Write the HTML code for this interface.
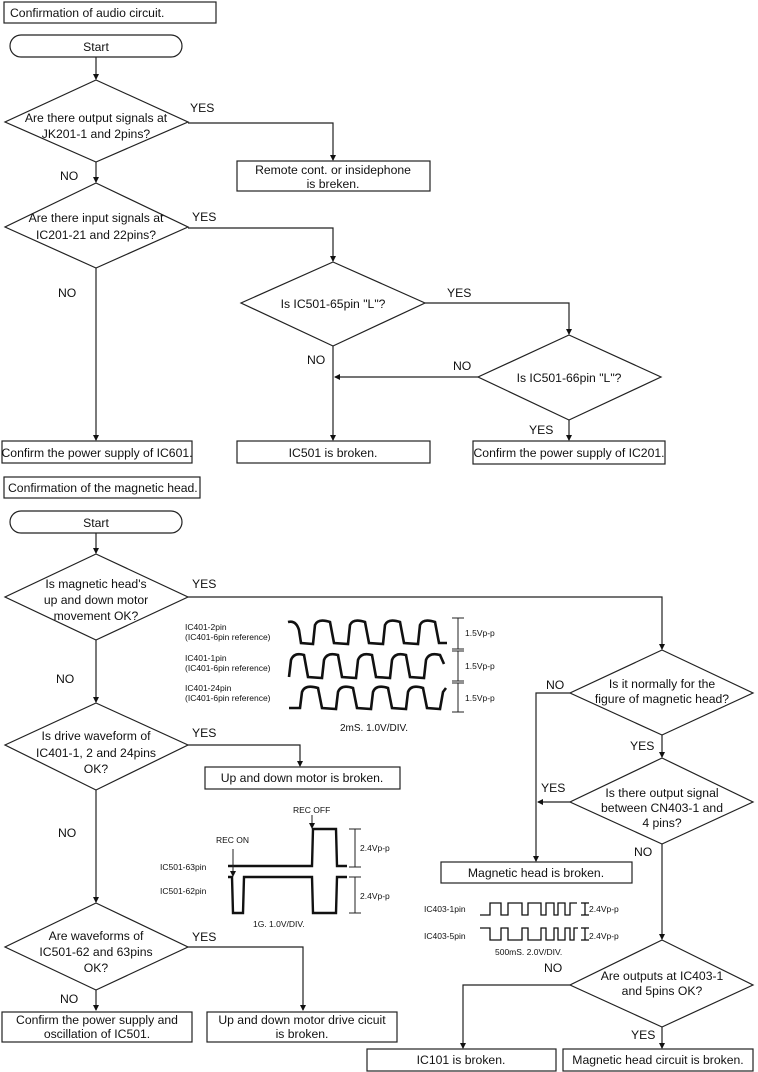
<!DOCTYPE html>
<html><head><meta charset="utf-8"><style>
body{margin:0;background:#fff}
svg{display:block}
text{font-family:"Liberation Sans",sans-serif;fill:#111}
.t{font-size:12.2px}
.s{font-size:8.5px}
.m{font-size:10px}
</style></head><body>
<svg width="758" height="1072" viewBox="0 0 758 1072" xmlns="http://www.w3.org/2000/svg">
<defs><marker id="a" markerWidth="6" markerHeight="8" refX="5" refY="4" orient="auto" markerUnits="userSpaceOnUse"><path d="M0,1 L6,4 L0,7 z" fill="#111"/></marker></defs>
<g fill="none" stroke="#222" stroke-width="1.2">
<rect x="4" y="2" width="212" height="21"/>
<rect x="10" y="35" width="172" height="22" rx="11"/>
<line x1="96" y1="57" x2="96" y2="79" marker-end="url(#a)"/>
<polygon points="96,80 188,122 96,162 5,122"/>
<polyline points="188,123 333,123 333,160" marker-end="url(#a)"/>
<rect x="237" y="161" width="193" height="30"/>
<line x1="96" y1="162" x2="96" y2="182" marker-end="url(#a)"/>
<polygon points="96,183 188,227 96,268 5,227"/>
<polyline points="188,228 333,228 333,261" marker-end="url(#a)"/>
<polygon points="333,262 425,303 333,346 241,303"/>
<polyline points="425,303 569,303 569,334" marker-end="url(#a)"/>
<polygon points="569,335 661,377 569,420 478,377"/>
<line x1="478" y1="377" x2="335" y2="377" marker-end="url(#a)"/>
<line x1="333" y1="346" x2="333" y2="440" marker-end="url(#a)"/>
<line x1="569" y1="420" x2="569" y2="440" marker-end="url(#a)"/>
<line x1="96" y1="268" x2="96" y2="440" marker-end="url(#a)"/>
<rect x="2" y="441" width="190" height="22"/>
<rect x="237" y="441" width="193" height="22"/>
<rect x="473" y="441" width="192" height="23"/>
<rect x="4" y="477" width="196" height="21"/>
<rect x="10" y="511" width="172" height="22" rx="11"/>
<line x1="96" y1="533" x2="96" y2="553" marker-end="url(#a)"/>
<polygon points="96,554 188,597 96,640 5,597"/>
<polyline points="188,597 662,597 662,649" marker-end="url(#a)"/>
<polygon points="662,650 753,693 662,735 570,693"/>
<polyline points="570,693 536,693 536,861" marker-end="url(#a)"/>
<line x1="662" y1="735" x2="662" y2="757" marker-end="url(#a)"/>
<polygon points="662,758 753,802 662,844 570,802"/>
<line x1="570" y1="802" x2="538" y2="802" marker-end="url(#a)"/>
<rect x="441" y="862" width="191" height="21"/>
<line x1="662" y1="844" x2="662" y2="939" marker-end="url(#a)"/>
<polygon points="662,940 753,985 662,1027 570,985"/>
<polyline points="570,985 463,985 463,1048" marker-end="url(#a)"/>
<line x1="662" y1="1027" x2="662" y2="1048" marker-end="url(#a)"/>
<rect x="367" y="1049" width="189" height="22"/>
<rect x="563" y="1049" width="190" height="22"/>
<line x1="96" y1="640" x2="96" y2="702" marker-end="url(#a)"/>
<polygon points="96,703 188,745 96,790 5,745"/>
<polyline points="188,745 300,745 300,766" marker-end="url(#a)"/>
<rect x="205" y="767" width="195" height="22"/>
<line x1="96" y1="790" x2="96" y2="902" marker-end="url(#a)"/>
<polygon points="96,903 188,947 96,990 5,947"/>
<polyline points="188,947 303,947 303,1010" marker-end="url(#a)"/>
<line x1="96" y1="990" x2="96" y2="1010" marker-end="url(#a)"/>
<rect x="2" y="1012" width="190" height="30"/>
<rect x="207" y="1012" width="190" height="30"/>
</g>
<g fill="none" stroke="#111" stroke-width="2.6">
<path d="M288,622 Q296,620 299,630 L301,643 L313,644 L315,625 Q318,618 330,622 L334,643 L348,644 L350,625 Q353,618 365,622 L369,643 L383,644 L385,625 Q388,618 400,622 L404,643 L418,644 L420,625 Q423,618 435,622 L439,643 L447,643"/>
<path d="M289,677 L291,660 Q294,652 304,655 L308,677 L322,678 L324,660 Q327,652 338,655 L342,677 L356,678 L358,660 Q361,652 372,655 L376,677 L390,678 L392,660 Q395,652 406,655 L410,677 L424,678 L426,660 Q429,652 440,655 L444,664"/>
<path d="M289,708 L300,708 L302,692 Q305,684 318,688 L322,708 L336,709 L338,692 Q341,684 353,688 L357,708 L371,709 L373,692 Q376,684 388,688 L392,708 L406,709 L408,692 Q411,684 423,688 L427,708 L440,709 L443,692 L446,688"/>
</g>
<g fill="none" stroke="#222" stroke-width="1">
<line x1="458" y1="618" x2="458" y2="649"/><line x1="452" y1="618" x2="464" y2="618"/><line x1="452" y1="649" x2="464" y2="649"/>
<line x1="458" y1="651" x2="458" y2="681"/><line x1="452" y1="651" x2="464" y2="651"/><line x1="452" y1="681" x2="464" y2="681"/>
<line x1="458" y1="683" x2="458" y2="712"/><line x1="452" y1="683" x2="464" y2="683"/><line x1="452" y1="712" x2="464" y2="712"/>
</g>
<g fill="none" stroke="#111" stroke-width="2.4">
<path d="M228,866 L312,866 L313,829 L336,829 L337,866 L347,866"/>
<path d="M228,877 L232,877 L233,913 L243,913 L244,877 L312,877 L313,913 L336,913 L337,877 L347,877"/>
</g>
<g fill="none" stroke="#222" stroke-width="1">
<line x1="355" y1="829" x2="355" y2="867"/><line x1="349" y1="829" x2="361" y2="829"/><line x1="349" y1="867" x2="361" y2="867"/>
<line x1="355" y1="877" x2="355" y2="913"/><line x1="349" y1="877" x2="361" y2="877"/><line x1="349" y1="913" x2="361" y2="913"/>
<line x1="233" y1="849" x2="233" y2="876" marker-end="url(#a)"/>
<line x1="312" y1="815" x2="312" y2="828" marker-end="url(#a)"/>
</g>
<g fill="none" stroke="#111" stroke-width="1.3">
<path d="M480,915 L490,915 L490,903 L501,903 L501,915 L508,915 L508,903 L522,903 L522,915 L528,915 L528,903 L541,903 L541,915 L546,915 L546,903 L554,903 L554,915 L558,915 L558,903 L565,903 L565,915 L570,915 L570,903 L577,903"/>
<path d="M480,928 L490,928 L490,940 L501,940 L501,928 L508,928 L508,940 L522,940 L522,928 L528,928 L528,940 L541,940 L541,928 L546,928 L546,940 L554,940 L554,928 L558,928 L558,940 L565,940 L565,928 L570,928 L570,940 L574,940 L574,928 L578,928"/>
<line x1="585" y1="903" x2="585" y2="915"/><line x1="581" y1="903" x2="589" y2="903"/><line x1="581" y1="915" x2="589" y2="915"/>
<line x1="585" y1="928" x2="585" y2="940"/><line x1="581" y1="928" x2="589" y2="928"/><line x1="581" y1="940" x2="589" y2="940"/>
</g>
<g class="t">
<text x="10" y="17">Confirmation  of audio circuit.</text>
<text x="96" y="51" text-anchor="middle">Start</text>
<text x="96" y="122" text-anchor="middle">Are there output signals at</text>
<text x="96" y="138" text-anchor="middle">JK201-1 and 2pins?</text>
<text x="190" y="112">YES</text>
<text x="333" y="174" text-anchor="middle">Remote cont. or insidephone</text>
<text x="333" y="188" text-anchor="middle">is breken.</text>
<text x="60" y="180">NO</text>
<text x="96" y="222" text-anchor="middle">Are there input signals at</text>
<text x="96" y="239" text-anchor="middle">IC201-21 and 22pins?</text>
<text x="192" y="221">YES</text>
<text x="58" y="297">NO</text>
<text x="333" y="308" text-anchor="middle">Is IC501-65pin "L"?</text>
<text x="447" y="297">YES</text>
<text x="307" y="364">NO</text>
<text x="453" y="370">NO</text>
<text x="569" y="382" text-anchor="middle">Is IC501-66pin "L"?</text>
<text x="529" y="434">YES</text>
<text x="97" y="457" text-anchor="middle">Confirm the power supply of IC601.</text>
<text x="333" y="457" text-anchor="middle">IC501 is broken.</text>
<text x="569" y="457" text-anchor="middle">Confirm the power supply of IC201.</text>
<text x="8" y="492">Confirmation of the magnetic head.</text>
<text x="96" y="527" text-anchor="middle">Start</text>
<text x="96" y="588" text-anchor="middle">Is magnetic head's</text>
<text x="96" y="604" text-anchor="middle">up and down motor</text>
<text x="96" y="620" text-anchor="middle">movement OK?</text>
<text x="192" y="588">YES</text>
<text x="56" y="683">NO</text>
<text x="96" y="740" text-anchor="middle">Is drive waveform of</text>
<text x="96" y="757" text-anchor="middle">IC401-1, 2 and 24pins</text>
<text x="96" y="773" text-anchor="middle">OK?</text>
<text x="192" y="737">YES</text>
<text x="302" y="782" text-anchor="middle">Up and down motor is broken.</text>
<text x="58" y="837">NO</text>
<text x="96" y="940" text-anchor="middle">Are waveforms of</text>
<text x="96" y="956" text-anchor="middle">IC501-62 and 63pins</text>
<text x="96" y="972" text-anchor="middle">OK?</text>
<text x="192" y="941">YES</text>
<text x="60" y="1003">NO</text>
<text x="97" y="1024" text-anchor="middle">Confirm the power supply and</text>
<text x="97" y="1038" text-anchor="middle">oscillation of IC501.</text>
<text x="302" y="1024" text-anchor="middle">Up and down motor drive cicuit</text>
<text x="302" y="1038" text-anchor="middle">is broken.</text>
<text x="662" y="688" text-anchor="middle">Is it normally for the</text>
<text x="662" y="703" text-anchor="middle">figure of magnetic head?</text>
<text x="546" y="689">NO</text>
<text x="630" y="750">YES</text>
<text x="662" y="797" text-anchor="middle">Is there output signal</text>
<text x="662" y="812" text-anchor="middle">between CN403-1 and</text>
<text x="662" y="827" text-anchor="middle">4 pins?</text>
<text x="541" y="792">YES</text>
<text x="634" y="856">NO</text>
<text x="536" y="877" text-anchor="middle">Magnetic head is broken.</text>
<text x="662" y="980" text-anchor="middle">Are outputs at IC403-1</text>
<text x="662" y="995" text-anchor="middle">and 5pins OK?</text>
<text x="544" y="972">NO</text>
<text x="631" y="1039">YES</text>
<text x="461" y="1064" text-anchor="middle">IC101 is broken.</text>
<text x="658" y="1064" text-anchor="middle">Magnetic head circuit is broken.</text>
</g>
<g class="s">
<text x="185" y="630">IC401-2pin</text><text x="185" y="640">(IC401-6pin reference)</text>
<text x="185" y="661">IC401-1pin</text><text x="185" y="671">(IC401-6pin reference)</text>
<text x="185" y="691">IC401-24pin</text><text x="185" y="701">(IC401-6pin reference)</text>
<text x="465" y="636">1.5Vp-p</text><text x="465" y="669">1.5Vp-p</text><text x="465" y="701">1.5Vp-p</text>
<text x="216" y="843">REC ON</text><text x="293" y="813">REC OFF</text>
<text x="360" y="851">2.4Vp-p</text><text x="360" y="899">2.4Vp-p</text>
<text x="253" y="927">1G. 1.0V/DIV.</text>
<text x="160" y="870">IC501-63pin</text><text x="160" y="894">IC501-62pin</text>
<text x="424" y="912">IC403-1pin</text><text x="424" y="939">IC403-5pin</text>
<text x="589" y="912">2.4Vp-p</text><text x="589" y="939">2.4Vp-p</text>
<text x="495" y="955">500mS. 2.0V/DIV.</text>
</g>
<text class="m" x="340" y="731">2mS. 1.0V/DIV.</text>
</svg>
</body></html>
